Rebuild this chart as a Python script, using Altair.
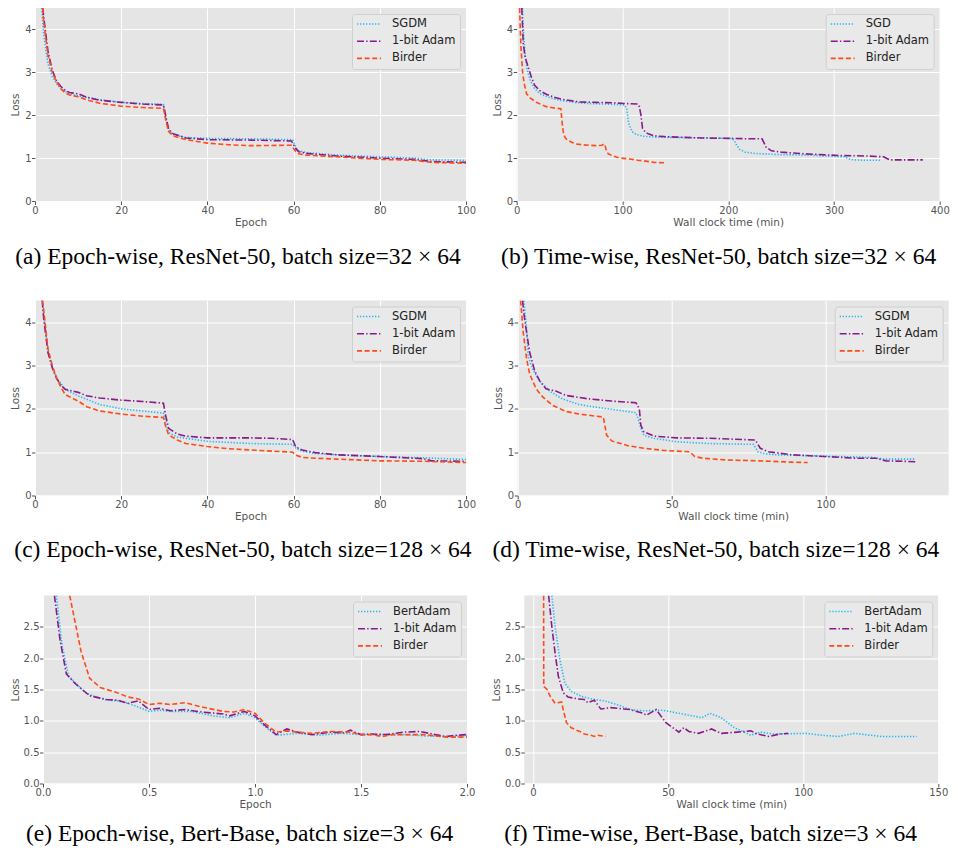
import altair as alt
import pandas as pd

# ---------------- data ----------------
# (a) Epoch-wise, ResNet-50, batch 32x64
A_SGDM_X = [1.55, 2, 3, 4, 5, 6, 8, 10, 15, 20, 25, 29.8, 30.4, 31, 32, 35, 40, 50, 59.8, 60.5, 61.2, 63, 70, 80, 88, 92, 100]
A_SGDM_Y = [4.5, 3.9, 3.2, 2.9, 2.74, 2.62, 2.5, 2.45, 2.36, 2.3, 2.27, 2.25, 1.9, 1.65, 1.55, 1.48, 1.46, 1.45, 1.43, 1.25, 1.17, 1.13, 1.07, 1.03, 1.0, 0.96, 0.95]
A_ADAM_X = [1.8, 2, 3, 4, 5, 6, 7, 8, 10, 12, 15, 20, 25, 29.8, 30.4, 31, 32, 35, 40, 50, 59.5, 60.5, 61.2, 63, 70, 80, 88, 92, 100]
A_ADAM_Y = [4.5, 4.3, 3.5, 3.05, 2.8, 2.67, 2.58, 2.53, 2.5, 2.42, 2.35, 2.3, 2.26, 2.24, 1.95, 1.68, 1.57, 1.47, 1.43, 1.42, 1.4, 1.22, 1.15, 1.11, 1.05, 1.0, 0.97, 0.92, 0.9]
A_BIRD_X = [1.75, 2, 3, 4, 5, 6, 7, 8, 10, 12, 15, 20, 25, 29.8, 30.4, 31, 32, 35, 40, 45, 50, 59.5, 60.5, 61.2, 63, 70, 80, 88, 92, 100]
A_BIRD_Y = [4.5, 4.2, 3.4, 3.0, 2.78, 2.62, 2.52, 2.47, 2.43, 2.36, 2.28, 2.21, 2.18, 2.16, 1.85, 1.62, 1.52, 1.43, 1.35, 1.31, 1.29, 1.3, 1.15, 1.1, 1.07, 1.03, 0.97, 0.95, 0.9, 0.88]

# (b) Time-wise, ResNet-50, batch 32x64
B_SGD_X = [5.4, 6.5, 8, 10, 13, 17, 22, 30, 40, 55, 70, 85, 102, 104, 106, 109, 113, 120, 130, 150, 180, 204, 206, 208, 211, 216, 225, 250, 275, 300, 310, 314, 318, 330, 345]
B_SGD_Y = [4.5, 3.9, 3.4, 3.05, 2.8, 2.62, 2.5, 2.42, 2.35, 2.3, 2.27, 2.26, 2.24, 2.15, 1.8, 1.62, 1.55, 1.51, 1.49, 1.48, 1.47, 1.46, 1.4, 1.3, 1.2, 1.14, 1.11, 1.08, 1.07, 1.04, 1.03, 0.98, 0.96, 0.95, 0.95]
B_ADAM_X = [4.83, 5, 6.2, 8, 10.8, 14, 17, 22, 28, 35, 43, 59, 75, 90, 105, 114.5, 116, 117.5, 119, 122, 125, 130, 140, 151, 175, 200, 220, 232, 234, 236, 241, 250, 260, 280, 306, 330, 347, 350, 353, 365, 384]
B_ADAM_Y = [4.5, 4.4, 3.67, 3.35, 3.13, 2.88, 2.7, 2.57, 2.49, 2.42, 2.37, 2.31, 2.3, 2.29, 2.27, 2.26, 2.2, 2.0, 1.69, 1.6, 1.56, 1.52, 1.5, 1.49, 1.47, 1.46, 1.45, 1.45, 1.35, 1.25, 1.17, 1.14, 1.12, 1.09, 1.06, 1.05, 1.03, 0.99, 0.96, 0.96, 0.96]
B_BIRD_X = [2.75, 3, 4, 5.6, 7, 9.3, 13, 18.6, 28, 35, 41.8, 42.5, 43.5, 44.5, 46, 48, 52, 56, 62, 68, 75, 80.5, 83, 84, 85, 86.7, 90, 95, 99, 107, 114.5, 122, 130, 141]
B_BIRD_Y = [4.5, 4.3, 3.6, 3.0, 2.75, 2.5, 2.4, 2.3, 2.2, 2.17, 2.15, 1.95, 1.7, 1.55, 1.47, 1.42, 1.37, 1.33, 1.31, 1.3, 1.29, 1.3, 1.33, 1.25, 1.15, 1.1, 1.06, 1.02, 1.0, 0.98, 0.95, 0.93, 0.9, 0.89]

# (c) Epoch-wise, ResNet-50, batch 128x64
C_SGDM_X = [1.7, 2, 3, 4, 5, 7, 10, 15, 20, 25, 29.8, 30.5, 31, 33, 40, 50, 59.8, 60.5, 62, 65, 70, 80, 90, 100]
C_SGDM_Y = [4.5, 4.2, 3.35, 2.98, 2.72, 2.45, 2.3, 2.1, 2.0, 1.95, 1.9, 1.6, 1.45, 1.35, 1.25, 1.2, 1.18, 1.1, 1.02, 0.97, 0.94, 0.9, 0.87, 0.83]
C_ADAM_X = [1.67, 2, 3, 4, 5, 6, 7, 10, 12, 15, 20, 25, 29.8, 30.3, 31, 33, 35, 40, 50, 55, 59.8, 60.5, 62, 65, 70, 80, 90, 92, 100]
C_ADAM_Y = [4.5, 4.1, 3.3, 2.95, 2.7, 2.55, 2.45, 2.38, 2.3, 2.25, 2.2, 2.17, 2.13, 1.85, 1.55, 1.42, 1.37, 1.33, 1.33, 1.32, 1.29, 1.12, 1.05, 0.99, 0.94, 0.9, 0.85, 0.8, 0.79]
C_BIRD_X = [1.75, 2, 3, 4, 5, 6, 7, 8, 10, 12, 15, 20, 25, 29.8, 30.3, 31, 33, 35, 40, 45, 50, 59.8, 60.5, 62, 65, 70, 80, 90, 100]
C_BIRD_Y = [4.5, 4.3, 3.4, 3.0, 2.72, 2.5, 2.33, 2.28, 2.18, 2.05, 1.95, 1.88, 1.83, 1.8, 1.6, 1.4, 1.28, 1.2, 1.13, 1.08, 1.05, 1.0, 0.93, 0.88, 0.86, 0.84, 0.8, 0.79, 0.76]

# (d) Time-wise, ResNet-50, batch 128x64
D_SGDM_X = [2.04, 2.4, 3.0, 3.4, 5, 7, 9.2, 10.3, 14.5, 19.9, 25.2, 30.5, 38.4, 39.2, 40, 41, 44.3, 51.7, 62, 76.6, 78, 80, 83.5, 94, 104.8, 115, 118.6, 129]
D_SGDM_Y = [4.5, 4.2, 3.76, 3.2, 2.9, 2.65, 2.5, 2.41, 2.23, 2.1, 2.04, 1.99, 1.91, 1.75, 1.55, 1.39, 1.32, 1.24, 1.2, 1.18, 1.01, 0.97, 0.94, 0.92, 0.9, 0.88, 0.84, 0.84]
D_ADAM_X = [1.58, 2.0, 2.9, 3.9, 5.5, 7.1, 9.2, 12.4, 15.6, 23, 30.5, 38.4, 39.5, 40, 41, 44.3, 51.7, 62.3, 77.2, 78.8, 81.4, 88.9, 99.5, 110, 116.5, 119.6, 129.2]
D_ADAM_Y = [4.5, 4.2, 3.76, 3.3, 2.88, 2.65, 2.46, 2.41, 2.31, 2.23, 2.18, 2.14, 2.0, 1.62, 1.47, 1.37, 1.33, 1.32, 1.28, 1.09, 1.01, 0.94, 0.9, 0.86, 0.86, 0.8, 0.78]
D_BIRD_X = [0.94, 1.3, 1.8, 2.9, 3.9, 6, 8.2, 11.4, 15.6, 19.9, 27.8, 28.3, 28.9, 30.5, 35.8, 41, 47.5, 55.9, 57.5, 60.2, 67.6, 78.2, 88.9, 94.2]
D_BIRD_Y = [4.5, 4.2, 3.76, 3.15, 2.8, 2.46, 2.27, 2.08, 1.94, 1.88, 1.81, 1.62, 1.39, 1.26, 1.15, 1.09, 1.04, 1.01, 0.9, 0.86, 0.82, 0.8, 0.77, 0.76]

# (e) Epoch-wise, Bert-Base, batch 3x64
E_BERT_X = [0.063, 0.09, 0.12, 0.16, 0.2, 0.25, 0.3, 0.35, 0.4, 0.45, 0.5, 0.55, 0.6, 0.7, 0.8, 0.88, 0.95, 1.0, 1.05, 1.1, 1.2, 1.3, 1.4, 1.5, 1.6, 1.7, 1.8, 1.9, 2.0]
E_BERT_Y = [3.0, 2.2, 1.72, 1.58, 1.45, 1.38, 1.33, 1.32, 1.28, 1.22, 1.15, 1.17, 1.15, 1.15, 1.08, 1.05, 1.12, 1.05, 0.9, 0.77, 0.8, 0.77, 0.8, 0.78, 0.78, 0.78, 0.76, 0.75, 0.76]
E_ADAM_X = [0.054, 0.08, 0.11, 0.15, 0.22, 0.3, 0.35, 0.4, 0.45, 0.5, 0.55, 0.6, 0.67, 0.75, 0.85, 0.88, 0.95, 1.0, 1.05, 1.1, 1.15, 1.2, 1.27, 1.35, 1.42, 1.45, 1.5, 1.55, 1.62, 1.7, 1.78, 1.85, 1.9, 1.95, 2.0]
E_ADAM_Y = [3.0, 2.3, 1.75, 1.6, 1.4, 1.34, 1.33, 1.28, 1.32, 1.18, 1.2, 1.16, 1.18, 1.14, 1.11, 1.08, 1.15, 1.08, 0.92, 0.78, 0.87, 0.82, 0.78, 0.82, 0.81, 0.85, 0.78, 0.79, 0.78, 0.82, 0.83, 0.78, 0.75, 0.77, 0.78]
E_BIRD_X = [0.126, 0.15, 0.18, 0.22, 0.27, 0.35, 0.4, 0.45, 0.5, 0.55, 0.6, 0.67, 0.75, 0.85, 0.9, 0.95, 1.0, 1.05, 1.1, 1.15, 1.2, 1.27, 1.35, 1.45, 1.5, 1.55, 1.6, 1.65, 1.7, 1.8, 1.9, 2.0]
E_BIRD_Y = [3.0, 2.6, 2.1, 1.68, 1.53, 1.45, 1.38, 1.35, 1.26, 1.28, 1.26, 1.29, 1.22, 1.15, 1.14, 1.18, 1.12, 0.95, 0.82, 0.84, 0.82, 0.8, 0.83, 0.82, 0.78, 0.78, 0.75, 0.78, 0.78, 0.78, 0.74, 0.74]

# (f) Time-wise, Bert-Base, batch 3x64
F_BERT_X = [7, 8.2, 10, 11.8, 14.2, 17.9, 22.7, 26.3, 31.1, 35.9, 40.8, 48, 52.8, 58.9, 62.5, 65.5, 69.7, 74.5, 78.2, 80.6, 84.2, 89, 101, 107, 113, 119, 125, 129, 142]
F_BERT_Y = [3.0, 2.5, 1.97, 1.6, 1.47, 1.39, 1.34, 1.32, 1.26, 1.18, 1.16, 1.17, 1.13, 1.08, 1.05, 1.12, 1.05, 0.89, 0.82, 0.77, 0.82, 0.79, 0.8, 0.77, 0.75, 0.8, 0.77, 0.75, 0.75]
F_ADAM_X = [5.8, 7, 8.2, 9.4, 11.2, 13, 16.6, 19, 20.3, 22.7, 25.1, 28.7, 33.5, 35.9, 40.8, 42, 45.6, 49.2, 54, 55.8, 57.7, 61.3, 66.1, 69.7, 75.7, 80.6, 83, 87.2, 91.4, 94.4]
F_ADAM_Y = [3.0, 2.5, 2.08, 1.71, 1.45, 1.38, 1.35, 1.34, 1.29, 1.33, 1.19, 1.21, 1.19, 1.18, 1.12, 1.09, 1.18, 0.97, 0.82, 0.89, 0.83, 0.8, 0.87, 0.8, 0.82, 0.84, 0.79, 0.75, 0.79, 0.8]
F_BIRD_X = [3.95, 4, 5.2, 6.4, 8.2, 10.6, 11.2, 12.4, 14.2, 16.6, 17.9, 19, 21.5, 22.7, 23.9, 26.9]
F_BIRD_Y = [3.0, 1.55, 1.5, 1.39, 1.28, 1.3, 1.18, 0.97, 0.89, 0.84, 0.82, 0.79, 0.77, 0.75, 0.77, 0.75]

COLORS = ["#1DB9F2", "#8A1A8C", "#FF4B18"]
DASHES = [[1.3, 1.7], [7, 2.2, 1.4, 2.2], [5, 2.6]]

FONT = "DejaVu Sans"
SERIF = "Liberation Serif"


def make_df(items):
    rows = []
    for name, xs, ys in items:
        for x, y in zip(xs, ys):
            rows.append({"series": name, "x": x, "y": y})
    return pd.DataFrame(rows)


def panel(items, xdom, xticks, xfmt, ydom, yticks, yfmt, xtitle, w, h, ytx, caption, cap_dx, cap_off):
    names = [it[0] for it in items]
    df = make_df(items)
    leg = alt.Legend(
        title=None, orient="top-right", offset=6, fillColor="#E9E9E9", strokeColor="#CFCFCF",
        cornerRadius=3, padding=4, labelFont=FONT, labelFontSize=11.5, labelColor="#222222",
        symbolType="stroke", symbolSize=576, symbolStrokeWidth=1.6, rowPadding=5.2, labelOffset=10,
        clipHeight=12,
    )
    color = alt.Color("series:N", scale=alt.Scale(domain=names, range=COLORS), legend=leg)
    dash = alt.StrokeDash("series:N", scale=alt.Scale(domain=names, range=DASHES), legend=leg)
    xenc = alt.X("x:Q", scale=alt.Scale(domain=xdom, nice=False, zero=False),
                 axis=alt.Axis(values=xticks, format=xfmt, title=xtitle, titlePadding=2.4, labelFlush=False))
    yenc = alt.Y("y:Q", scale=alt.Scale(domain=ydom, nice=False, zero=False),
                 axis=alt.Axis(values=yticks, format=yfmt, title="Loss", titleX=ytx, titleY=h / 2,
                               titleBaseline="middle", titleAngle=270))
    layers = []
    for n in names:
        layers.append(
            alt.Chart(df).transform_filter(alt.datum.series == n)
            .mark_line(clip=True, strokeWidth=1.6)
            .encode(x=xenc, y=yenc, color=color, strokeDash=dash, order=alt.Order("x:Q"))
        )
    return alt.layer(*layers).properties(
        width=w, height=h,
        title=alt.TitleParams(caption, orient="bottom", frame="bounds", anchor="middle", font=SERIF,
                              fontSize=23.5, fontWeight="normal", color="#000000", offset=cap_off, dx=cap_dx),
    )


def indep(c):
    return c.resolve_scale(color="independent", strokeDash="independent", x="independent", y="independent").resolve_legend(
        color="independent", strokeDash="independent")


T4 = [0, 1, 2, 3, 4]
T25 = [0, 0.5, 1.0, 1.5, 2.0, 2.5]

pa = panel([("SGDM", A_SGDM_X, A_SGDM_Y), ("1-bit Adam", A_ADAM_X, A_ADAM_Y), ("Birder", A_BIRD_X, A_BIRD_Y)],
           [0, 100], [0, 20, 40, 60, 80, 100], "d", [0, 4.5], T4, "d", "Epoch", 431, 193, -19.7,
           "(a) Epoch-wise, ResNet-50, batch size=32 × 64", -5, 17)
pb = panel([("SGD", B_SGD_X, B_SGD_Y), ("1-bit Adam", B_ADAM_X, B_ADAM_Y), ("Birder", B_BIRD_X, B_BIRD_Y)],
           [0, 400], [0, 100, 200, 300, 400], "d", [0, 4.5], T4, "d", "Wall clock time (min)", 423, 193, -19.7,
           "(b) Time-wise, ResNet-50, batch size=32 × 64", -2, 17)
pc = panel([("SGDM", C_SGDM_X, C_SGDM_Y), ("1-bit Adam", C_ADAM_X, C_ADAM_Y), ("Birder", C_BIRD_X, C_BIRD_Y)],
           [0, 100], [0, 20, 40, 60, 80, 100], "d", [0, 4.5], T4, "d", "Epoch", 431, 195, -19.7,
           "(c) Epoch-wise, ResNet-50, batch size=128 × 64", 0, 16)
pd_ = panel([("SGDM", D_SGDM_X, D_SGDM_Y), ("1-bit Adam", D_ADAM_X, D_ADAM_Y), ("Birder", D_BIRD_X, D_BIRD_Y)],
            [0, 140], [0, 50, 100], "d", [0, 4.5], T4, "d", "Wall clock time (min)", 431, 195, -19.7,
            "(d) Time-wise, ResNet-50, batch size=128 × 64", -5, 16)
pe = panel([("BertAdam", E_BERT_X, E_BERT_Y), ("1-bit Adam", E_ADAM_X, E_ADAM_Y), ("Birder", E_BIRD_X, E_BIRD_Y)],
           [0, 2], [0, 0.5, 1.0, 1.5, 2.0], ".1f", [0, 3.0], T25, ".1f", "Epoch", 424, 188, -27.8,
           "(e) Epoch-wise, Bert-Base, batch size=3 × 64", -3, 12)
pf = panel([("BertAdam", F_BERT_X, F_BERT_Y), ("1-bit Adam", F_ADAM_X, F_ADAM_Y), ("Birder", F_BIRD_X, F_BIRD_Y)],
           [-3.2, 150], [0, 50, 100, 150], "d", [0, 3.0], T25, ".1f", "Wall clock time (min)", 414, 188, -28,
           "(f) Time-wise, Bert-Base, batch size=3 × 64", -9, 12)

# transparent 8px spacer that shifts the bottom row to the right
spacer = alt.Chart(pd.DataFrame({"v": [0]})).mark_point(opacity=0).encode(
    x=alt.X("v:Q", axis=None), y=alt.Y("v:Q", axis=None)
).properties(width=8, height=10, view=alt.ViewBackground(fillOpacity=0, strokeOpacity=0))

row1 = indep(alt.hconcat(pa, pb, spacing=50.7, bounds="flush"))
row2 = indep(alt.hconcat(pc, pd_, spacing=51.7, bounds="flush"))
row3 = indep(alt.hconcat(spacer, indep(alt.hconcat(pe, pf, spacing=57.3, bounds="flush")), spacing=0, bounds="flush"))
top = indep(alt.vconcat(row1, row2, spacing=31.5))
chart = indep(alt.vconcat(top, row3, spacing=33.5)).properties(
    padding={"left": 2, "top": 0, "right": 0, "bottom": 0}, background="#FFFFFF"
).configure_view(fill="#E5E5E5", strokeWidth=0).configure_axis(
    grid=True, gridColor="#FFFFFF", gridWidth=1, domain=False,
    tickColor="#555555", tickSize=3.5, tickWidth=1, labelPadding=0.5,
    labelColor="#555555", labelFont=FONT, labelFontSize=10,
    titleColor="#555555", titleFont=FONT, titleFontSize=10.5, titleFontWeight="normal",
)

chart.save("out.html", embed_options={"renderer": "svg", "actions": False})
